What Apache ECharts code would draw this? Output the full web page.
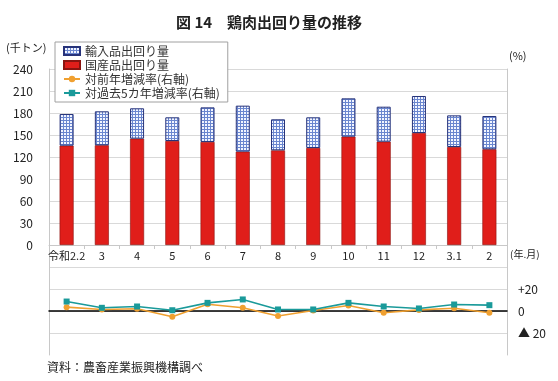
<!DOCTYPE html>
<html><head><meta charset="utf-8">
<script src="https://cdn.jsdelivr.net/npm/echarts@6/dist/echarts.min.js"></script>
<style>html,body{margin:0;padding:0;background:#fff}#c{width:558px;height:381px}</style>
</head><body><div id="c"></div>
<script>
var categories = ['令和2.2','3','4','5','6','7','8','9','10','11','12','3.1','2'];
var domestic = [135.4,136.0,145.0,141.8,140.5,127.3,129.1,132.3,147.7,140.9,152.7,133.6,130.5];
var imports = [43.2,46.3,41.4,32.3,47.2,62.7,42.3,41.8,52.3,47.7,50.5,43.2,45.4];
var yoyRate = [3.5,1.4,2.0,-5.3,6.2,2.9,-4.5,0.4,5.0,-1.6,1.0,2.5,-1.6];
var fiveYearRate = [8.6,2.9,4.1,0.7,7.4,10.5,1.4,1.4,7.4,4.1,2.3,5.9,5.3];
var leftTicks = [0,30,60,90,120,150,180,210,240];
var rightTickLabels = {'20':'+20','0':'0','-20':'▲ 20'};

var FONT = '"Noto Sans CJK JP", "Noto Sans", sans-serif';
var pc = document.createElement('canvas');
pc.width = 3; pc.height = 3;
var g = pc.getContext('2d');
g.fillStyle = '#f2f5ff'; g.fillRect(0,0,3,3);
g.fillStyle = '#6a86cf'; g.fillRect(0,0,3,1); g.fillRect(0,0,1,3);
var pattern = {image: pc, repeat: 'repeat'};

var chart = echarts.init(document.getElementById('c'), null, {renderer:'canvas'});
var gray = '#c8c8c8';
chart.setOption({
  animation: false,
  textStyle: {fontFamily: FONT},
  title: {text: '図 14　鶏肉出回り量の推移', left: 171, top: 10,
    textStyle: {fontFamily: FONT, fontSize: 15, fontWeight: 'bold', color: '#222'}},
  legend: {
    orient: 'vertical', left: 55, top: 42, padding: [2, 8, 2, 8],
    backgroundColor: '#fff', borderColor: '#a0a0a0', borderWidth: 1, borderRadius: 0,
    itemWidth: 16, itemHeight: 8, itemGap: 0,
    textStyle: {fontFamily: FONT, fontSize: 12, lineHeight: 14, color: '#333'},
    data: [
      {name: '輸入品出回り量', icon: 'rect'},
      {name: '国産品出回り量', icon: 'rect'},
      {name: '対前年増減率(右軸)'},
      {name: '対過去5カ年増減率(右軸)'}
    ]
  },
  grid: [
    {left: 49, right: 51, top: 69, height: 176},
    {left: 49, right: 51, top: 245, height: 110}
  ],
  xAxis: [
    {type: 'category', gridIndex: 0, data: categories, boundaryGap: true,
      axisLine: {lineStyle: {color: gray}},
      axisTick: {show: true, length: 4, lineStyle: {color: gray}},
      axisLabel: {fontFamily: FONT, fontSize: 11, color: '#222', margin: 5, interval: 0}},
    {type: 'category', gridIndex: 1, data: categories, boundaryGap: true,
      axisLine: {onZero: true, lineStyle: {color: '#000', width: 1.5}},
      axisTick: {show: false}, axisLabel: {show: false}}
  ],
  yAxis: [
    {type: 'value', gridIndex: 0, min: leftTicks[0], max: leftTicks[leftTicks.length-1], interval: 30,
      axisLine: {show: true, lineStyle: {color: gray}}, axisTick: {show: false},
      axisLabel: {fontFamily: FONT, fontSize: 12, color: '#222', margin: 16},
      splitLine: {lineStyle: {color: '#d9d9d9'}}},
    {type: 'value', gridIndex: 0, position: 'right', min: 0, max: 240, interval: 30,
      axisLine: {show: true, lineStyle: {color: gray}}, axisTick: {show: false},
      axisLabel: {show: false}, splitLine: {show: false}},
    {type: 'value', gridIndex: 1, min: -40, max: 60, interval: 20,
      axisLine: {show: true, lineStyle: {color: gray}}, axisTick: {show: false},
      axisLabel: {show: false},
      splitLine: {show: true, lineStyle: {color: ['rgba(0,0,0,0)','#d9d9d9','#d9d9d9','#d9d9d9','#d9d9d9','rgba(0,0,0,0)']}}},
    {type: 'value', gridIndex: 1, position: 'right', min: -40, max: 60, interval: 20,
      axisLine: {show: true, lineStyle: {color: gray}}, axisTick: {show: false},
      axisLabel: {fontFamily: FONT, fontSize: 12, color: '#222', margin: 11,
        formatter: function(v){ var k = String(v); return rightTickLabels.hasOwnProperty(k) ? rightTickLabels[k] : ''; }},
      splitLine: {show: false}}
  ],
  series: [
    {name: '国産品出回り量', type: 'bar', stack: 'q', xAxisIndex: 0, yAxisIndex: 0, data: domestic,
      barWidth: 14, itemStyle: {color: '#e01e1a', borderColor: '#8a1410', borderWidth: 0.6}},
    {name: '輸入品出回り量', type: 'bar', stack: 'q', xAxisIndex: 0, yAxisIndex: 0, data: imports,
      barWidth: 14, itemStyle: {color: pattern, borderColor: '#27337a', borderWidth: 1}},
    {name: '対前年増減率(右軸)', type: 'line', xAxisIndex: 1, yAxisIndex: 3, data: yoyRate,
      symbol: 'circle', symbolSize: 6, lineStyle: {color: '#f0a030', width: 1.6},
      itemStyle: {color: '#f0a030'}, z: 3},
    {name: '対過去5カ年増減率(右軸)', type: 'line', xAxisIndex: 1, yAxisIndex: 3, data: fiveYearRate,
      symbol: 'rect', symbolSize: 6, lineStyle: {color: '#1a9a9a', width: 1.6},
      itemStyle: {color: '#1a9a9a'}, z: 4}
  ],
  graphic: [
    {type: 'text', left: 6, top: 42, style: {text: '(千トン)', font: '11px ' + FONT, fill: '#222'}},
    {type: 'text', left: 509, top: 50, style: {text: '(%)', font: '11px ' + FONT, fill: '#222'}},
    {type: 'text', left: 510, top: 249, style: {text: '(年.月)', font: '10px ' + FONT, fill: '#222'}},
    {type: 'text', left: 47, top: 361, style: {text: '資料：農畜産業振興機構調べ', font: '12px ' + FONT, fill: '#222'}}
  ]
});
</script></body></html>
